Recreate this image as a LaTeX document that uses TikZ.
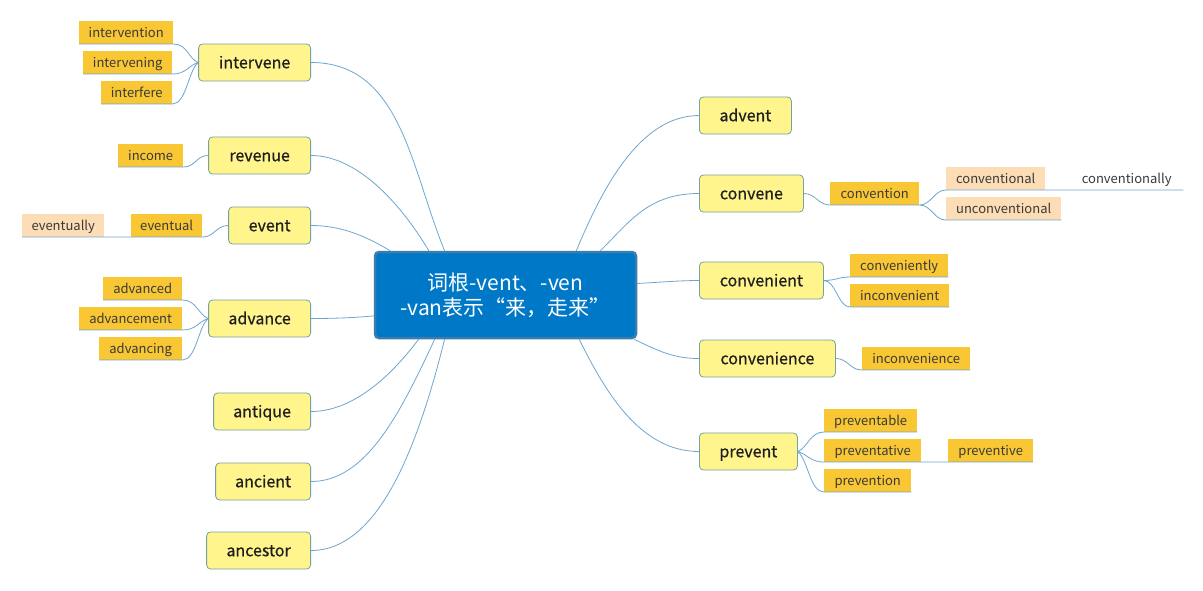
\documentclass[tikz,border=0pt]{standalone}
\usepackage{fontspec}
\setmainfont{Noto Sans CJK SC}
\newfontfamily\topicfont[FakeBold=0.6]{Noto Sans CJK SC}

\definecolor{rootblue}{HTML}{0078C8}
\definecolor{rootedge}{HTML}{3C7DB0}
\definecolor{topicfill}{HTML}{FFF58C}
\definecolor{topicedge}{HTML}{74A29C}
\definecolor{leaffill}{HTML}{F8C733}
\definecolor{softfill}{HTML}{FDDDB5}
\definecolor{linkblue}{HTML}{6FA6CF}
\definecolor{inkgray}{HTML}{3A3A3A}

\tikzset{
  root/.style={draw=rootedge, line width=2.5pt, fill=rootblue, rounded corners=4pt,
    text=white, minimum width=261pt, minimum height=86pt, align=center,
    font=\fontsize{21}{25}\selectfont},
  topic/.style={draw=topicedge, line width=0.8pt, fill=topicfill, rounded corners=4pt,
    text=black!88, minimum height=37pt, inner sep=0pt, text height=13pt, text depth=1.5pt,
    font=\topicfont\fontsize{16}{18}\selectfont},
  leaf/.style={fill=leaffill, text=inkgray, minimum height=23pt, inner sep=0pt,
    text height=11pt, text depth=1pt, anchor=south west,
    font=\fontsize{13}{15}\selectfont},
  softleaf/.style={leaf, fill=softfill},
  plainleaf/.style={leaf, fill=none},
  branch/.style={draw=linkblue, line width=0.8pt},
}

\begin{document}
\begin{tikzpicture}[x=1pt, y=-1pt]
\fill[white] (0,0) rectangle (1203,590);
\useasboundingbox (0,0) rectangle (1203,590);

%centre
\node[root] (root) at (505.5,295) {词根-vent、-ven\\-van表示“来，走来”};

%left topics
\node[topic, anchor=east, minimum width=112pt] (intervene) at (311,62.5) {intervene};
\node[topic, anchor=east, minimum width=102pt] (revenue) at (311,155.5) {revenue};
\node[topic, anchor=east, minimum width=82pt] (event) at (311,225.5) {event};
\node[topic, anchor=east, minimum width=102pt] (advance) at (311,318.5) {advance};
\node[topic, anchor=east, minimum width=97pt] (antique) at (311,411.5) {antique};
\node[topic, anchor=east, minimum width=95pt] (ancient) at (311,481.5) {ancient};
\node[topic, anchor=east, minimum width=104pt] (ancestor) at (311,550.5) {ancestor};

%right topics
\node[topic, anchor=west, minimum width=92pt] (advent) at (699,115.5) {advent};
\node[topic, anchor=west, minimum width=104pt] (convene) at (699,193.5) {convene};
\node[topic, anchor=west, minimum width=124pt] (convenient) at (699,280.5) {convenient};
\node[topic, anchor=west, minimum width=136pt] (convenience) at (699,358.5) {convenience};
\node[topic, anchor=west, minimum width=98pt] (prevent) at (699,451.5) {prevent};

%left leaves
\node[leaf, minimum width=94pt] (intervention) at (79,44) {intervention};
\node[leaf, minimum width=89pt] (intervening) at (83,74) {intervening};
\node[leaf, minimum width=71pt] (interfere) at (101,104) {interfere};
\node[leaf, minimum width=65pt] (income) at (118,167) {income};
\node[leaf, minimum width=71pt] (eventual) at (131,237) {eventual};
\node[softleaf, minimum width=82pt] (eventually) at (22,237) {eventually};
\node[leaf, minimum width=79pt] (advanced) at (103,300) {advanced};
\node[leaf, minimum width=103pt] (advancement) at (79,330) {advancement};
\node[leaf, minimum width=83pt] (advancing) at (99,360) {advancing};

%right leaves
\node[leaf, minimum width=89pt] (convention) at (830,205) {convention};
\node[softleaf, minimum width=99pt] (conventional) at (946,190) {conventional};
\node[plainleaf, minimum width=113pt] (conventionally) at (1070,190) {conventionally};
\node[softleaf, minimum width=115pt] (unconventional) at (946,220) {unconventional};
\node[leaf, minimum width=98pt] (conveniently) at (850,277) {conveniently};
\node[leaf, minimum width=99pt] (inconvenient) at (850,307) {inconvenient};
\node[leaf, minimum width=108pt] (inconvenience) at (862,370) {inconvenience};
\node[leaf, minimum width=93pt] (preventable) at (824,432) {preventable};
\node[leaf, minimum width=97pt] (preventative) at (824,462) {preventative};
\node[leaf, minimum width=85pt] (preventive) at (948,462) {preventive};
\node[leaf, minimum width=87pt] (prevention) at (824,492) {prevention};

%main branches
\draw[branch]
(root.144.9) .. controls +(-34,-83) and +(90,0) .. (intervene.east)
(root.150.7) .. controls +(-30,-50) and +(45,0) .. (revenue.east)
(root.159.3) .. controls +(-25,-15) and +(30,0) .. (event.east)
(root.189) .. controls +(-20,2) and +(20,0) .. (advance.east)
(root.207.2) .. controls +(-30,40) and +(40,0) .. (antique.east)
(root.212.7) .. controls +(-35,75) and +(55,0) .. (ancient.east)
(root.216) .. controls +(-25,100) and +(70,0) .. (ancestor.east)
(root.32.7) .. controls +(25,-60) and +(-60,0) .. (advent.west)
(root.25.4) .. controls +(30,-30) and +(-50,0) .. (convene.west)
(root.5.2) .. controls +(20,-1) and +(-20,0) .. (convenient.west)
(root.341.5) .. controls +(25,12) and +(-25,0) .. (convenience.west)
(root.329) .. controls +(25,50) and +(-60,0) .. (prevent.west);

%left twigs
\draw[branch]
(intervention.south west) -- (intervention.south east) .. controls +(14,0) and +(-10,-4) .. (intervene.west)
(intervening.south west) -- (intervening.south east) .. controls +(14,0) and +(-10,3) .. (intervene.west)
(interfere.south west) -- (interfere.south east) .. controls +(14,0) and +(-10,8) .. (intervene.west)
(income.south west) -- (income.south east) .. controls +(12,0) and +(-12,0) .. (revenue.west)
(eventually.south west) -- (eventual.south east) .. controls +(12,0) and +(-12,0) .. (event.west)
(advanced.south west) -- (advanced.south east) .. controls +(14,0) and +(-10,-4) .. (advance.west)
(advancement.south west) -- (advancement.south east) .. controls +(14,0) and +(-10,3) .. (advance.west)
(advancing.south west) -- (advancing.south east) .. controls +(14,0) and +(-10,8) .. (advance.west);

%right twigs
\draw[branch]
(convene.east) .. controls +(12,0) and +(-12,0) .. (convention.south west) -- (convention.south east)
(convention.south east) .. controls +(12,0) and +(-12,0) .. (conventional.south west) -- (conventional.south east) -- (conventionally.south east)
(convention.south east) .. controls +(12,0) and +(-12,0) .. (unconventional.south west) -- (unconventional.south east)
(convenient.east) .. controls +(12,0) and +(-12,0) .. (conveniently.south west) -- (conveniently.south east)
(convenient.east) .. controls +(12,0) and +(-12,0) .. (inconvenient.south west) -- (inconvenient.south east)
(convenience.east) .. controls +(12,0) and +(-12,0) .. (inconvenience.south west) -- (inconvenience.south east)
(prevent.east) .. controls +(10,-4) and +(-14,0) .. (preventable.south west) -- (preventable.south east)
(prevent.east) .. controls +(10,3) and +(-14,0) .. (preventative.south west) -- (preventive.south east)
(prevent.east) .. controls +(10,8) and +(-14,0) .. (prevention.south west) -- (prevention.south east);
\end{tikzpicture}
\end{document}
